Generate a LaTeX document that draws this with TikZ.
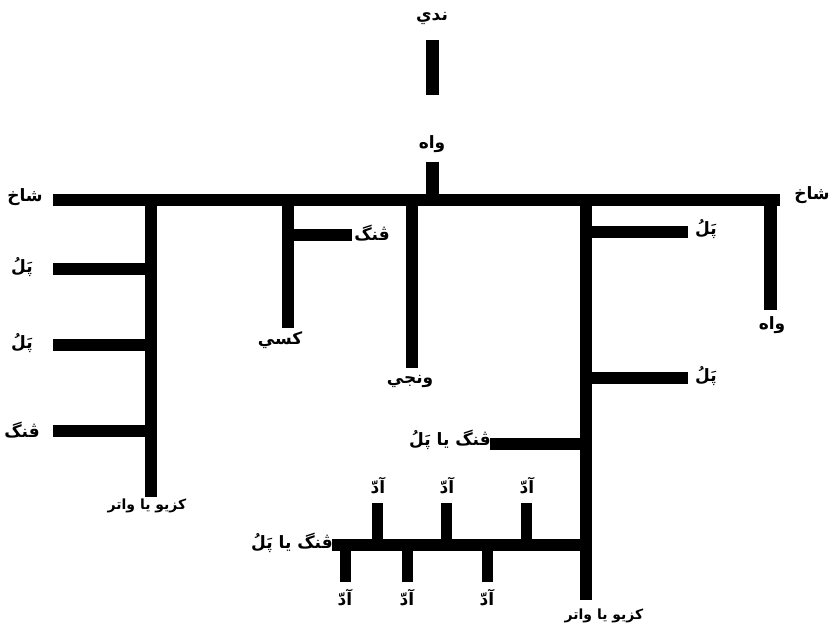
\documentclass[tikz,border=0pt]{standalone}
\usepackage{fontspec}
\newfontfamily\arabicfont[Script=Arabic]{DejaVu Sans}
\TeXXeTstate=1
\begin{document}
\begin{tikzpicture}[x=1pt,y=-1pt,
  bar/.style={line width=12pt},
  tooth/.style={line width=11pt},
  lab/.style={font=\fontsize{17}{19}\selectfont\arabicfont\bfseries, inner sep=0pt},
  slab/.style={font=\fontsize{14}{16}\selectfont\arabicfont\bfseries, inner sep=0pt}]
\useasboundingbox (0,0) rectangle (834,631);
% main branch
\coordinate (mL) at (53,200);
\coordinate (mR) at (780,200);
\draw[bar] (mL) -- (mR);
% top
\coordinate (t1) at (432,40); \coordinate (t2) at (432,95);
\coordinate (t3) at (432,162); \coordinate (t4) at (432,200);
\draw[line width=13pt] (t1) -- (t2);
\draw[line width=13pt] (t3) -- (t4);
\node[lab] (nadi) at (432,18) {\beginR ندي\endR};
\node[lab] (wah1) at (432,144) {\beginR واه\endR};
\node[lab] (shL) at (25,197) {\beginR شاخ\endR};
\node[lab] (shR) at (812,195) {\beginR شاخ\endR};
% left vertical
\coordinate (lv1) at (151,200); \coordinate (lv2) at (151,497);
\draw[bar] (lv1) -- (lv2);
\node[slab] (kzL) at (147,506) {\beginR كزيو يا واتر\endR};
\coordinate (lb1a) at (53,269); \coordinate (lb1b) at (151,269);
\coordinate (lb2a) at (53,345); \coordinate (lb2b) at (151,345);
\coordinate (lb3a) at (53,431); \coordinate (lb3b) at (151,431);
\draw[bar] (lb1a) -- (lb1b);
\draw[bar] (lb2a) -- (lb2b);
\draw[bar] (lb3a) -- (lb3b);
\node[lab] (pl1) at (22,267) {\beginR پَلُ\endR};
\node[lab] (pl2) at (22,343) {\beginR پَلُ\endR};
\node[lab] (vn1) at (22,430) {\beginR ڤنگ\endR};
% kasi
\coordinate (k1) at (288,200); \coordinate (k2) at (288,328);
\coordinate (k3) at (288,235); \coordinate (k4) at (352,235);
\draw[bar] (k1) -- (k2);
\draw[bar] (k3) -- (k4);
\node[lab] (vn2) at (372,233) {\beginR ڤنگ\endR};
\node[lab] (kasi) at (280,340) {\beginR كسي\endR};
% wanji
\coordinate (w1) at (412,200); \coordinate (w2) at (412,368);
\draw[bar] (w1) -- (w2);
\node[lab] (wanji) at (410,381) {\beginR ونجي\endR};
% right main vertical
\coordinate (r1) at (586,200); \coordinate (r2) at (586,600);
\draw[bar] (r1) -- (r2);
\node[slab] (kzR) at (604,616) {\beginR كزيو يا واتر\endR};
\coordinate (rb1a) at (586,232); \coordinate (rb1b) at (688,232);
\coordinate (rb2a) at (586,378); \coordinate (rb2b) at (688,378);
\coordinate (rb3a) at (490,444); \coordinate (rb3b) at (586,444);
\draw[bar] (rb1a) -- (rb1b);
\draw[bar] (rb2a) -- (rb2b);
\draw[bar] (rb3a) -- (rb3b);
\node[lab] (pl3) at (706,229) {\beginR پَلُ\endR};
\node[lab] (pl4) at (706,376) {\beginR پَلُ\endR};
\node[lab, anchor=east] (vp1) at (491,440) {\beginR ڤنگ يا پَلُ\endR};
% wah right
\coordinate (wr1) at (770,200); \coordinate (wr2) at (770,310);
\draw[line width=13pt] (wr1) -- (wr2);
\node[lab] (wah2) at (772,325) {\beginR واه\endR};
% comb
\coordinate (c1) at (332,545); \coordinate (c2) at (586,545);
\draw[bar] (c1) -- (c2);
\node[lab, anchor=east] (vp2) at (333,543) {\beginR ڤنگ يا پَلُ\endR};
% upper teeth
\coordinate (u1a) at (377,503); \coordinate (u1b) at (377,545);
\coordinate (u2a) at (446,503); \coordinate (u2b) at (446,545);
\coordinate (u3a) at (526,503); \coordinate (u3b) at (526,545);
\draw[tooth] (u1a) -- (u1b);
\draw[tooth] (u2a) -- (u2b);
\draw[tooth] (u3a) -- (u3b);
\node[lab] (u1l) at (378,486) {\beginR آدّ\endR};
\node[lab] (u2l) at (447,486) {\beginR آدّ\endR};
\node[lab] (u3l) at (527,486) {\beginR آدّ\endR};
% lower teeth
\coordinate (d1a) at (345,545); \coordinate (d1b) at (345,582);
\coordinate (d2a) at (407,545); \coordinate (d2b) at (407,582);
\coordinate (d3a) at (487,545); \coordinate (d3b) at (487,582);
\draw[tooth] (d1a) -- (d1b);
\draw[tooth] (d2a) -- (d2b);
\draw[tooth] (d3a) -- (d3b);
\node[lab] (d1l) at (345,598) {\beginR آدّ\endR};
\node[lab] (d2l) at (407,598) {\beginR آدّ\endR};
\node[lab] (d3l) at (487,598) {\beginR آدّ\endR};
\end{tikzpicture}
\end{document}
